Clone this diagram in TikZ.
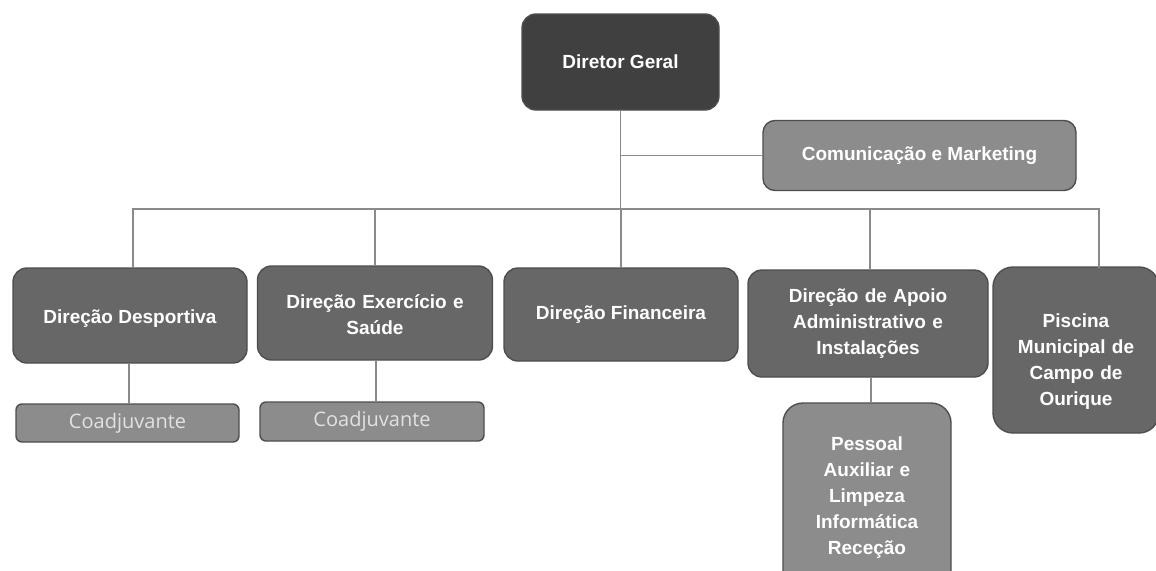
\documentclass[tikz,border=0pt]{standalone}
\usepackage{fontspec}
\setmainfont{Liberation Sans}
\newfontfamily\coadfont{Open Sans}
\definecolor{dgfill}{HTML}{404040}
\definecolor{dirfill}{HTML}{676767}
\definecolor{ltfill}{HTML}{8C8C8C}
\definecolor{edge}{HTML}{4E4E4E}
\definecolor{conn}{HTML}{8A8A8A}
\definecolor{ctext}{HTML}{E2E2E2}
\begin{document}
\begin{tikzpicture}[x=1pt,y=-1pt,
  box/.style={rectangle, rounded corners=14pt, draw=edge, line width=1.4pt, text=white,
    align=center, inner sep=0pt, font=\fontsize{19}{26}\selectfont\bfseries},
  dirbox/.style={box, fill=dirfill},
  coad/.style={rectangle, rounded corners=6pt, draw=edge, line width=1.4pt, fill=ltfill,
    text=ctext, inner sep=0pt, font=\coadfont\fontsize{20}{24}\selectfont},
  link/.style={draw=conn, line width=1.5pt}]
\useasboundingbox (0,0) rectangle (1156,570);
\fill[white] (0,0) rectangle (1156,570);

\node[box, fill=dgfill, minimum width=197pt, minimum height=96pt] (dg) at (620.5,62) {Diretor Geral};
\node[box, fill=ltfill, rounded corners=12pt, minimum width=313pt, minimum height=70pt] (com) at (919.5,155.5) {Comunicação e Marketing};

\node[dirbox, minimum width=234pt, minimum height=95pt] (dd) at (130,315.5) {\rule{0pt}{20pt}Direção Desportiva};
\node[dirbox, minimum width=235pt, minimum height=94pt, text width=230pt] (de) at (375,313) {\rule{0pt}{18pt}Direção Exercício e\\Saúde};
\node[dirbox, minimum width=234pt, minimum height=93pt] (df) at (621,314.5) {Direção Financeira};
\node[dirbox, minimum width=240pt, minimum height=107pt, text width=230pt] (da) at (868,323.5) {Direção de Apoio\\Administrativo e\\Instalações};
\node[dirbox, rounded corners=20pt, minimum width=166pt, minimum height=166pt, text width=160pt] (pis) at (1076,350) {\rule{0pt}{36pt}Piscina\\Municipal de\\Campo de\\Ourique};

\node[coad, minimum width=223pt, minimum height=38pt] (c1) at (127.5,423) {Coadjuvante};
\node[coad, minimum width=224pt, minimum height=39pt] (c2) at (372,421.5) {Coadjuvante};
\node[box, fill=ltfill, rounded corners=20pt, minimum width=168pt, minimum height=190pt, text width=160pt] (pa) at (867,498) {Pessoal\\Auxiliar e\\Limpeza\\Informática\\Receção};

\coordinate (j) at (621,209);
\coordinate (pt) at (1099,268);
\path[link] (dg.south) -- (dg.south |- j);
\path[link] (dg.south |- com.west) -- (com.west);
\path[link] ([xshift=3pt]dd.north) -- ([xshift=3pt]dd.north |- j) -- (pt |- j) -- (pt);
\path[link] (de.north |- j) -- (de.north);
\path[link] (df.north |- j) -- (df.north);
\path[link] ([xshift=2pt]da.north |- j) -- ([xshift=2pt]da.north);
\path[link] ([xshift=-1pt]dd.south) -- ([xshift=-1pt]dd.south |- c1.north);
\path[link] ([xshift=1pt]de.south) -- ([xshift=1pt]de.south |- c2.north);
\path[link] ([xshift=3pt]da.south) -- ([xshift=3pt]da.south |- pa.north);
\end{tikzpicture}
\end{document}
